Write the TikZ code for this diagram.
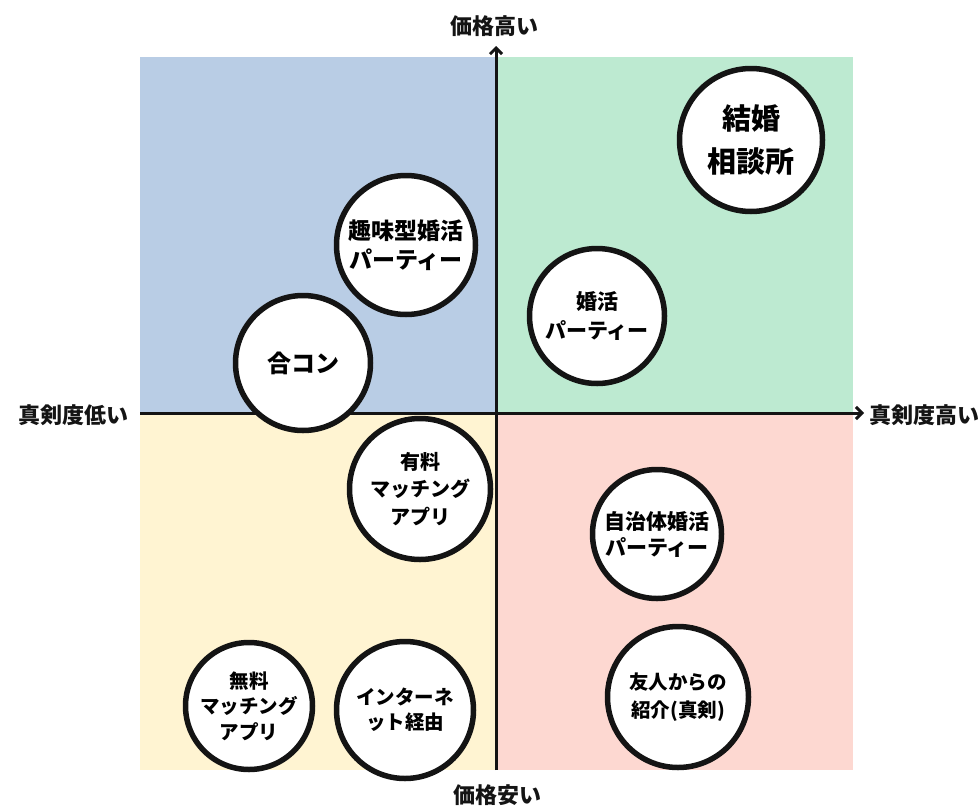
\documentclass[tikz,border=0pt]{standalone}
\usepackage{fontspec}
\setmainfont{Noto Sans CJK JP}
\usetikzlibrary{arrows.meta}
\definecolor{qblue}{RGB}{185,205,229}
\definecolor{qgreen}{RGB}{189,234,209}
\definecolor{qyellow}{RGB}{255,244,210}
\definecolor{qpink}{RGB}{253,216,209}
\definecolor{ink}{RGB}{20,20,20}
\begin{document}
\begin{tikzpicture}[x=1pt,y=-1pt,
  bub/.style={circle, draw=ink, line width=5.5pt, fill=white, inner sep=0pt, align=center},
  axis/.style={line width=3pt, draw=ink},
  lab/.style={font=\bfseries\fontsize{22}{26}\selectfont, inner sep=0pt, text=ink}]
\useasboundingbox (0,0) rectangle (980,806);
% quadrants
\fill[qblue]   (140,57)  rectangle (496,413);
\fill[qgreen]  (496,57)  rectangle (853,413);
\fill[qyellow] (140,413) rectangle (496,770);
\fill[qpink]   (496,413) rectangle (853,770);
% axes
\coordinate (xl) at (140,413);
\coordinate (xr) at (864,413);
\coordinate (yb) at (496,770);
\coordinate (yt) at (496,46);
\draw[axis,-{Straight Barb[length=6pt,width=12pt]}] (xl) -- (xr);
\draw[axis,-{Straight Barb[length=6pt,width=12pt]}] (yb) -- (yt);
% axis labels
\node[lab] (ltop) at (494,26) {価格高い};
\node[lab] (lbot) at (497,795) {価格安い};
\node[lab] (lleft) at (73,415) {真剣度低い};
\node[lab] (lright) at (924,415) {真剣度高い};
% bubbles
\node[bub, minimum size=143pt, font=\bfseries\fontsize{29}{43}\selectfont] (kekkon) at (751,140) {結婚\\相談所};
\node[bub, minimum size=139pt, font=\bfseries\fontsize{23}{29}\selectfont] (shumi) at (406,245) {趣味型婚活\\パーティー};
\node[bub, minimum size=135pt, font=\bfseries\fontsize{21}{29}\selectfont] (konkatsu) at (597,316) {婚活\\パーティー};
\node[bub, minimum size=135pt, font=\bfseries\fontsize{24}{28}\selectfont] (goukon) at (303,363) {合コン};
\node[bub, minimum size=141pt, font=\bfseries\fontsize{20}{27.5}\selectfont] (yuryo) at (420,489) {有料\\マッチング\\アプリ};
\node[bub, minimum size=129pt, font=\bfseries\fontsize{21}{26}\selectfont] (jichitai) at (657,534) {自治体婚活\\パーティー};
\node[bub, minimum size=127pt, font=\bfseries\fontsize{19.5}{25.5}\selectfont] (muryo) at (249,706) {無料\\マッチング\\アプリ};
\node[bub, minimum size=137pt, font=\bfseries\fontsize{19.5}{25}\selectfont] (net) at (405,710) {インターネ\\ット経由};
\node[bub, minimum size=141pt, font=\bfseries\fontsize{19.5}{28}\selectfont] (yujin) at (678,697) {友人からの\\紹介(真剣)};
\end{tikzpicture}
\end{document}
